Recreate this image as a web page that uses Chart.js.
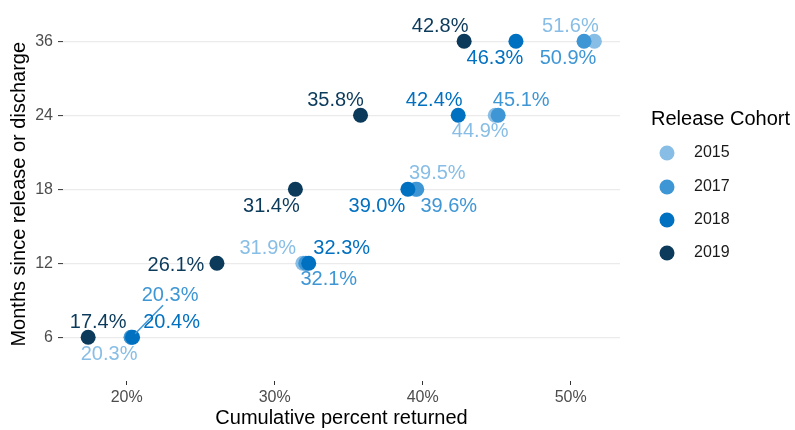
<!DOCTYPE html>
<html>
<head>
<meta charset="utf-8">
<script src="https://cdn.jsdelivr.net/npm/chart.js@4.4.0/dist/chart.umd.min.js"></script>
<style>
html, body { margin: 0; padding: 0; background: #fff; }
#wrap { width: 795px; height: 430px; position: relative; }
</style>
</head>
<body>
<div id="wrap"><canvas id="chart"></canvas></div>
<script>
var months = ['6', '12', '18', '24', '36'];
var cohorts = ['2015', '2017', '2018', '2019'];
var returned2015 = [20.3, 31.9, 39.5, 44.9, 51.6];
var returned2017 = [20.3, 32.1, 39.6, 45.1, 50.9];
var returned2018 = [20.4, 32.3, 39.0, 42.4, 46.3];
var returned2019 = [17.4, 26.1, 31.4, 35.8, 42.8];
var xTicks = [20, 30, 40, 50];

var colors = ['#88bee6', '#3f96d5', '#0070c0', '#0b3a5b'];
var FONT = '"Liberation Sans", Arial, sans-serif';

// where each label sits relative to its point (px)
var labelOffsets = [
  [[-22, 17], [-35, -15], [22, -16], [-15, 16], [-24, -15]],
  [[39, -42], [23, 16], [32, 17], [23, -15], [-16, 17]],
  [[39, -15], [33, -15], [-31, 17], [-24, -15], [-21, 17]],
  [[10, -15], [-41, 2], [-24, 17], [-25, -15], [-24, -15]]
];

var series = [returned2015, returned2017, returned2018, returned2019];

var datasets = series.map(function (vals, i) {
  return {
    label: cohorts[i],
    data: vals.map(function (v, j) { return { x: v, y: j }; }),
    backgroundColor: colors[i],
    borderColor: colors[i],
    borderWidth: 0,
    pointRadius: 7.5,
    pointHoverRadius: 7.5,
    order: series.length - 1 - i // later cohorts on top
  };
});

var labelPlugin = {
  id: 'pointLabels',
  afterDatasetsDraw: function (chart) {
    var ctx = chart.ctx;
    ctx.save();
    // repel segment for the 2017 six-month label
    var p = chart.getDatasetMeta(1).data[0];
    ctx.strokeStyle = colors[1];
    ctx.lineWidth = 1.5;
    ctx.beginPath();
    ctx.moveTo(p.x + 4, p.y - 3.5);
    ctx.lineTo(p.x + 32, p.y - 32);
    ctx.stroke();

    ctx.font = '20px ' + FONT;
    ctx.textAlign = 'center';
    ctx.textBaseline = 'middle';
    series.forEach(function (vals, i) {
      var meta = chart.getDatasetMeta(i);
      ctx.fillStyle = colors[i];
      vals.forEach(function (v, j) {
        var el = meta.data[j];
        var off = labelOffsets[i][j];
        ctx.fillText(v.toFixed(1) + '%', el.x + off[0], el.y + off[1]);
      });
    });
    ctx.restore();
  },
  afterDraw: function (chart) {
    var ctx = chart.ctx;
    ctx.save();
    ctx.fillStyle = '#000';
    ctx.font = '20px ' + FONT;
    ctx.textAlign = 'left';
    ctx.textBaseline = 'middle';
    ctx.fillText('Release Cohort', 651, 119);
    var ys = [153, 187, 220, 253];
    ctx.font = '16px ' + FONT;
    cohorts.forEach(function (c, i) {
      ctx.fillStyle = colors[i];
      ctx.beginPath();
      ctx.arc(667, ys[i], 7.5, 0, Math.PI * 2);
      ctx.fill();
      ctx.fillStyle = '#1a1a1a';
      ctx.fillText(c, 694, ys[i]);
    });
    ctx.restore();
  }
};

new Chart(document.getElementById('chart'), {
  type: 'scatter',
  data: { datasets: datasets },
  options: {
    responsive: true,
    maintainAspectRatio: false,
    animation: false,
    layout: { padding: { left: 0, right: 175, top: 0, bottom: 0 } },
    plugins: {
      legend: { display: false },
      tooltip: { enabled: false }
    },
    scales: {
      x: {
        type: 'linear',
        min: 15.7,
        max: 53.33,
        afterBuildTicks: function (scale) {
          scale.ticks = xTicks.map(function (v) { return { value: v }; });
        },
        afterFit: function (scale) {
          scale.height = 49;
          scale.paddingLeft = 0;
          scale.paddingRight = 0;
        },
        border: { display: false },
        grid: {
          drawOnChartArea: false,
          drawTicks: true,
          tickLength: 4,
          tickColor: '#333333',
          tickWidth: 1
        },
        ticks: {
          padding: 3,
          color: '#4d4d4d',
          font: { family: FONT, size: 16 },
          callback: function (v) { return v + '%'; }
        },
        title: {
          display: true,
          text: 'Cumulative percent returned',
          color: '#000',
          padding: 0,
          font: { family: FONT, size: 20, lineHeight: 1.2 }
        }
      },
      y: {
        type: 'linear',
        min: -0.59,
        max: 4.455,
        afterBuildTicks: function (scale) {
          scale.ticks = months.map(function (m, j) { return { value: j }; });
        },
        afterFit: function (scale) {
          scale.width = 63;
          scale.paddingTop = 0;
          scale.paddingBottom = 0;
        },
        border: { display: false },
        grid: {
          color: '#ebebeb',
          lineWidth: 1.2,
          drawTicks: true,
          tickLength: 5,
          tickColor: '#333333',
          tickWidth: 1
        },
        ticks: {
          padding: 5,
          color: '#4d4d4d',
          font: { family: FONT, size: 16 },
          callback: function (v) { return months[v]; }
        },
        title: {
          display: true,
          text: 'Months since release or discharge',
          color: '#000',
          padding: { top: 7, bottom: 0 },
          font: { family: FONT, size: 20, lineHeight: 1.2 }
        }
      }
    }
  },
  plugins: [labelPlugin]
});
</script>
</body>
</html>
